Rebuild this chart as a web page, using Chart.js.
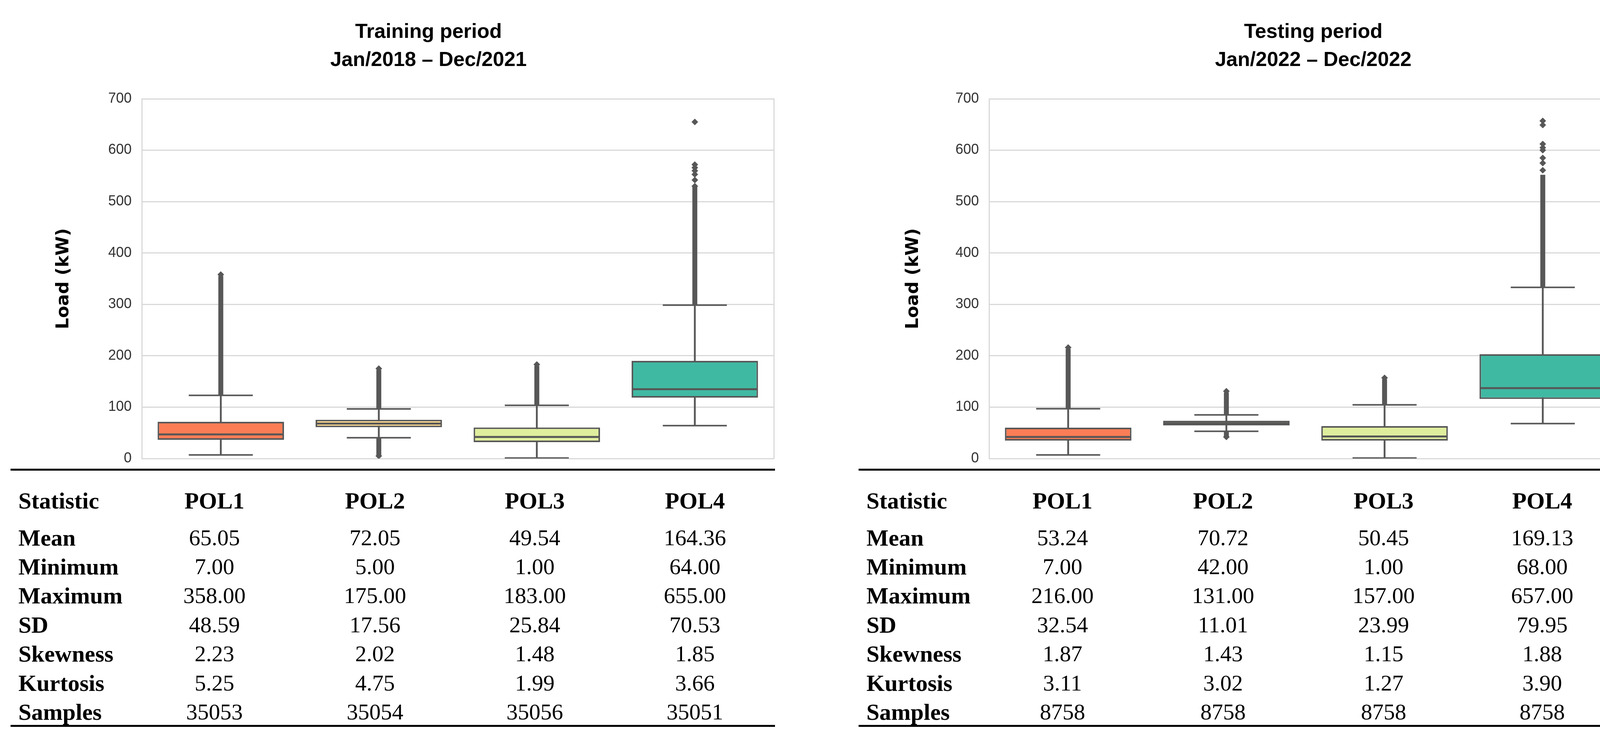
<!DOCTYPE html>
<html>
<head>
<meta charset="utf-8">
<title>Load distribution by POL</title>
<script src="https://cdn.jsdelivr.net/npm/chart.js@4.4.1/dist/chart.umd.min.js"></script>
<style>
  html, body { margin: 0; padding: 0; background: #fff; }
  #page { position: relative; width: 4182px; height: 1910px; overflow: hidden; background: #fff; }
  .box { position: absolute; top: 0; height: 1234px; }
  .title { position: absolute; width: 1000px; text-align: center; color: #000;
           font: bold 52px "Liberation Sans", Arial, sans-serif; line-height: 72px; }
  .rule { position: absolute; height: 5px; background: #000; }
  .cell { position: absolute; white-space: nowrap; color: #000;
          font-family: "Liberation Serif", "Times New Roman", serif; }
  .val { font-size: 58px; line-height: 58px; width: 300px; text-align: center; }
  .lab { font-size: 60px; line-height: 60px; font-weight: bold; }
  .head { text-align: center; width: 300px; }
</style>
</head>
<body>
<div id="page">
  <div class="title" style="left:597px; top:43px">Training period<br>Jan/2018 – Dec/2021</div>
  <div class="title" style="left:2862px; top:43px">Testing period<br>Jan/2022 – Dec/2022</div>
  <div class="box" style="left:0; width:2091px"><canvas id="train"></canvas></div>
  <div class="box" style="left:2140px; width:2042px"><canvas id="test"></canvas></div>
  <div id="tables"></div>
</div>
<script>
const categories = ['POL1', 'POL2', 'POL3', 'POL4'];

// box plots, training period
const trainColors = ['#fb7d56', '#fed98e', '#dfee9d', '#40b9a3'];
const trainQ1 = [36.5, 61, 32, 118.5];
const trainMedian = [47, 68, 42, 135];
const trainQ3 = [71.5, 75.5, 60.5, 190];
const trainWhiskerLow = [7, 40.5, 1, 64];
const trainWhiskerHigh = [123, 96.5, 103.5, 298.5];
const trainOutlierHigh = [[124, 355], [97, 172], [104, 180], [299, 530]];
const trainOutlierLow = [null, [5, 40], null, null];
const trainOutlierPoints = [
  ['POL1', 358], ['POL2', 175], ['POL2', 5], ['POL3', 183],
  ['POL4', 530], ['POL4', 542], ['POL4', 553], ['POL4', 560], ['POL4', 566], ['POL4', 572], ['POL4', 655]
];

// box plots, testing period
const testColors = ['#fb7d56', '#c9b07f', '#dfee9d', '#40b9a3'];
const testQ1 = [35, 64.5, 35, 116];
const testMedian = [42, 68.5, 43, 137];
const testQ3 = [60, 73.5, 63, 203];
const testWhiskerLow = [7, 53, 1, 68];
const testWhiskerHigh = [97, 85, 104.5, 333];
const testOutlierHigh = [[97, 213], [86, 128], [105, 154], [334, 552]];
const testOutlierLow = [null, [43, 53], null, null];
const testOutlierPoints = [
  ['POL1', 216], ['POL2', 131], ['POL2', 42], ['POL3', 157],
  ['POL4', 561], ['POL4', 575], ['POL4', 585], ['POL4', 600], ['POL4', 605], ['POL4', 612], ['POL4', 649], ['POL4', 657]
];

const yTicks = [0, 100, 200, 300, 400, 500, 600, 700];

// statistics tables
const statNames = ['Mean', 'Minimum', 'Maximum', 'SD', 'Skewness', 'Kurtosis', 'Samples'];
const trainMean = [65.05, 72.05, 49.54, 164.36];
const trainMin = [7, 5, 1, 64];
const trainMax = [358, 175, 183, 655];
const trainSD = [48.59, 17.56, 25.84, 70.53];
const trainSkew = [2.23, 2.02, 1.48, 1.85];
const trainKurt = [5.25, 4.75, 1.99, 3.66];
const trainSamples = [35053, 35054, 35056, 35051];
const testMean = [53.24, 70.72, 50.45, 169.13];
const testMin = [7, 42, 1, 68];
const testMax = [216, 131, 157, 657];
const testSD = [32.54, 11.01, 23.99, 79.95];
const testSkew = [1.87, 1.43, 1.15, 1.88];
const testKurt = [3.11, 3.02, 1.27, 3.90];
const testSamples = [8758, 8758, 8758, 8758];

const LINE = '#575757';
const GRID = '#d9d9d9';

function boxChart(id, s, frame) {
  const canvas = document.getElementById(id);
  const pairs = (a, b) => a.map((v, i) => [v, b[i]]);
  const floating = { type: 'bar', grouped: false, borderSkipped: false, categoryPercentage: 1, backgroundColor: LINE };
  const marks = { type: 'line', showLine: false, pointBorderColor: LINE, pointBackgroundColor: LINE };

  return new Chart(canvas, {
    type: 'bar',
    data: {
      labels: categories,
      datasets: [
        { ...marks, data: s.median, pointStyle: 'line', pointRadius: 160, pointBorderWidth: 5, order: 0 },
        { ...marks, data: s.whiskerHigh, pointStyle: 'line', pointRadius: 82, pointBorderWidth: 4, order: 1 },
        { ...marks, data: s.whiskerLow, pointStyle: 'line', pointRadius: 82, pointBorderWidth: 4, order: 1 },
        { ...marks, data: s.points.map(([x, y]) => ({ x, y })), pointStyle: 'rectRot', pointRadius: 8, pointBorderWidth: 1, order: 1 },
        { ...floating, data: pairs(s.q1, s.q3), backgroundColor: s.colors, borderColor: LINE, borderWidth: 4, barPercentage: 0.8, order: 2 },
        { ...floating, data: pairs(s.whiskerLow, s.whiskerHigh), barThickness: 4, order: 3 },
        { ...floating, data: s.outHigh, barThickness: 12, order: 3 },
        { ...floating, data: s.outLow, barThickness: 12, order: 3 },
      ],
    },
    options: {
      responsive: true,
      maintainAspectRatio: false,
      animation: false,
      devicePixelRatio: 1,
      events: [],
      // the wide median markers would otherwise add automatic padding
      layout: { autoPadding: false, padding: { left: 0, right: frame.padRight, top: 253, bottom: 60 } },
      plugins: { legend: { display: false }, tooltip: { enabled: false } },
      scales: {
        x: { display: false, offset: true },
        y: {
          min: 0, max: 700,
          afterBuildTicks: ax => { ax.ticks = yTicks.map(value => ({ value })); },
          afterFit: ax => { ax.width = frame.axisWidth; },
          ticks: { padding: 26, color: '#333', font: { family: 'Liberation Sans', size: 36 } },
          grid: { color: GRID, lineWidth: 3, drawTicks: false },
          border: { color: GRID, width: 3 },
          title: {
            display: true, text: 'Load (kW)', color: '#000',
            font: { family: 'DejaVu Sans', weight: 'bold', size: 45 },
            padding: { top: frame.titlePad, bottom: 0 },
          },
        },
        y2: {
          position: 'right', min: 0, max: 700,
          ticks: { display: false },
          grid: { display: false, drawTicks: false },
          border: { color: GRID, width: 3 },
          afterFit: ax => { ax.width = 0; },
        },
      },
    },
  });
}

boxChart('train', {
  colors: trainColors, q1: trainQ1, median: trainMedian, q3: trainQ3,
  whiskerLow: trainWhiskerLow, whiskerHigh: trainWhiskerHigh,
  outHigh: trainOutlierHigh, outLow: trainOutlierLow, points: trainOutlierPoints,
}, { padRight: 110, axisWidth: 363, titlePad: 136 });

boxChart('test', {
  colors: testColors, q1: testQ1, median: testMedian, q3: testQ3,
  whiskerLow: testWhiskerLow, whiskerHigh: testWhiskerHigh,
  outHigh: testOutlierHigh, outLow: testOutlierLow, points: testOutlierPoints,
}, { padRight: 30, axisWidth: 392, titlePad: 171 });

// tables under the plots
function statTable(rows, t) {
  const root = document.getElementById('tables');
  const add = (cls, text, css) => {
    const el = document.createElement('div');
    el.className = cls;
    el.textContent = text;
    Object.assign(el.style, css);
    root.appendChild(el);
  };
  add('rule', '', { left: t.x0 + 'px', width: (t.x1 - t.x0) + 'px', top: '1200px' });
  add('rule', '', { left: t.x0 + 'px', width: (t.x1 - t.x0) + 'px', top: '1856px' });

  add('cell lab', 'Statistic', { left: t.labelX + 'px', top: (1282 - 30) + 'px' });
  categories.forEach((c, j) => add('cell lab head', c, { left: (t.cols[j] - 150) + 'px', top: (1282 - 30) + 'px' }));

  rows.forEach((vals, i) => {
    const mid = 1376.5 + i * 74.4;
    add('cell lab', statNames[i], { left: t.labelX + 'px', top: (mid - 30) + 'px' });
    vals.forEach((v, j) => {
      const text = statNames[i] === 'Samples' ? String(v) : v.toFixed(2);
      add('cell val', text, { left: (t.cols[j] - 150) + 'px', top: (mid - 29) + 'px' });
    });
  });
}

statTable([trainMean, trainMin, trainMax, trainSD, trainSkew, trainKurt, trainSamples],
  { x0: 27, x1: 1984, labelX: 47, cols: [549, 960, 1369, 1779] });
statTable([testMean, testMin, testMax, testSD, testSkew, testKurt, testSamples],
  { x0: 2198, x1: 4155, labelX: 2218, cols: [2720, 3131, 3542, 3948] });
</script>
</body>
</html>
